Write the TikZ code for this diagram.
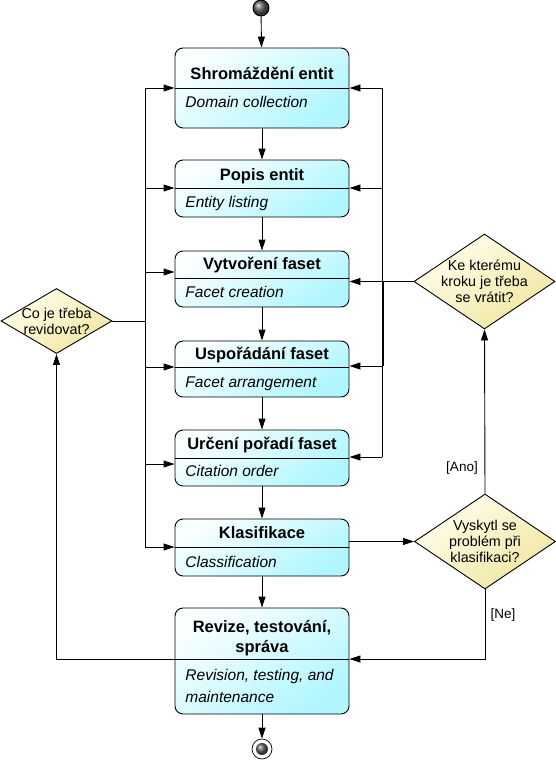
\documentclass[tikz,border=0pt]{standalone}
\usepackage{fontspec}
\setmainfont{Liberation Sans}
\usetikzlibrary{arrows.meta,shapes.geometric}
\definecolor{boxA}{RGB}{250,255,255}
\definecolor{boxB}{RGB}{176,246,255}
\definecolor{diaA}{RGB}{255,255,238}
\definecolor{diaB}{RGB}{240,230,160}
\begin{document}
\begin{tikzpicture}[x=1pt,y=-1pt,
  line width=0.9pt,
  box/.style={draw, rounded corners=8pt, minimum width=174pt, inner sep=0pt,
    top color=boxA, bottom color=boxB, shading angle=35},
  dia/.style={draw, diamond, inner sep=0pt, minimum width=141pt, minimum height=95pt,
    top color=diaA, bottom color=diaB, shading angle=35},
  ttl/.style={font=\fontsize{16.5}{20}\selectfont\bfseries, anchor=base, inner sep=0pt},
  sub/.style={font=\fontsize{15.5}{21}\selectfont\itshape, anchor=base west, inner sep=0pt},
  dtxt/.style={font=\fontsize{14.3}{16}\selectfont, align=center, inner sep=0pt},
  lbl/.style={font=\fontsize{13.5}{16}\selectfont, inner sep=0pt},
  arr/.style={-{Triangle[length=11pt,width=7pt]}},
  div/.style={line width=0.9pt}]
\useasboundingbox (0,0) rectangle (556,776);

% start
\node[circle, draw, minimum size=16pt, inner sep=0pt, ball color=gray!75!black] (start) at (261,8) {};

% boxes
\node[box, minimum height=80pt] (b1) at (262,88) {};
\node[box, minimum height=57pt] (b2) at (262,188.5) {};
\node[box, minimum height=56pt] (b3) at (262,279) {};
\node[box, minimum height=56pt] (b4) at (262,369) {};
\node[box, minimum height=56pt] (b5) at (262,458) {};
\node[box, minimum height=57pt] (b6) at (262,547.5) {};
\node[box, minimum height=106pt] (b7) at (262,661) {};

% dividers
\coordinate (d1) at (262,88);
\coordinate (d2) at (262,188);
\coordinate (d3) at (262,278);
\coordinate (d4) at (262,367);
\coordinate (d5) at (262,458);
\coordinate (d6) at (262,547);
\coordinate (d7) at (262,659);
\foreach \i in {1,...,7} {\draw[div] (b\i.west |- d\i) -- (b\i.east |- d\i);}

% titles
\node[ttl] (t1) at (262,80) {Shromáždění entit};
\node[ttl] (t2) at (262,180) {Popis entit};
\node[ttl] (t3) at (262,269) {Vytvoření faset};
\node[ttl] (t4) at (262,359) {Uspořádání faset};
\node[ttl] (t5) at (262,449) {Určení pořadí faset};
\node[ttl] (t6) at (262,538) {Klasifikace};
\node[ttl] (t7a) at (262,632) {Revize, testování,};
\node[ttl] (t7b) at (262,652) {správa};

% subtitles
\node[sub] (s1) at (185,107) {Domain collection};
\node[sub] (s2) at (185,207) {Entity listing};
\node[sub] (s3) at (185,297) {Facet creation};
\node[sub] (s4) at (185,387) {Facet arrangement};
\node[sub] (s5) at (185,476) {Citation order};
\node[sub] (s6) at (185,567) {Classification};
\node[sub] (s7a) at (185,680) {Revision, testing, and};
\node[sub] (s7b) at (185,702) {maintenance};

% end
\node[circle, draw, fill=white, minimum size=20pt, inner sep=0pt, line width=0.7pt] (endo) at (262,749) {};
\node[circle, minimum size=12pt, inner sep=0pt, ball color=gray!75!black] (endi) at (262,749) {};

% diamonds
\node[dia] (qback) at (484.5,281.5) {};
\node[dtxt] (qbackt) at (qback.center) {Ke kterému\\kroku je třeba\\se vrátit?};
\node[dia] (qprob) at (485,541.5) {};
\node[dtxt] (qprobt) at (qprob.center) {Vyskytl se\\problém při\\klasifikaci?};
\node[dia, minimum width=111pt, minimum height=65pt] (qrev) at (56.5,321) {};
\node[dtxt] (qrevt) at (qrev.center) {Co je třeba\\revidovat?};

% main flow
\draw[arr] (start) -- (b1);
\draw[arr] (b1) -- (b2);
\draw[arr] (b2) -- (b3);
\draw[arr] (b3) -- (b4);
\draw[arr] (b4) -- (b5);
\draw[arr] (b5) -- (b6);
\draw[arr] (b6.south) -- (b7.north);
\draw[arr] (b7.south) -- (endo.north);

% left bus
\coordinate (L) at (145,0);
\draw (L |- d1) -- (L |- d6);
\draw (qrev.east) -- (L |- qrev.east);
\draw[arr] (L |- d1) -- (b1.west |- d1);
\draw[arr] (L |- d2) -- (b2.west |- d2);
\draw[arr] (145,272) -- (b3.west |- 0,272);
\draw[arr] (L |- d4) -- (b4.west |- d4);
\draw[arr] (145,464) -- (b5.west |- 0,464);
\draw[arr] (L |- d6) -- (b6.west |- d6);

% revision back to left question
\draw[arr] (b7.west |- d7) -| (qrev.south);

% right bus
\coordinate (R) at (382,0);
\draw (R |- d1) -- (382,457);
\draw (383,281) -- (383,366);
\draw[arr] (R |- d1) -- (b1.east |- d1);
\draw[arr] (R |- d2) -- (b2.east |- d2);
\draw[arr] (qback.west) -- (b3.east |- qback.west);
\draw[arr] (382,366) -- (b4.east |- 0,366);
\draw[arr] (382,457) -- (b5.east |- 0,457);

% classification to problem
\draw[arr] (b6.east |- qprob.west) -- (qprob.west);
\draw[arr] (qprob.north) -- (qback.south);
\draw[arr] (qprob.south) |- (b7.east |- d7);

% labels
\node[lbl] (ano) at (462,468) {[Ano]};
\node[lbl] (ne) at (503,615) {[Ne]};
\end{tikzpicture}
\end{document}
